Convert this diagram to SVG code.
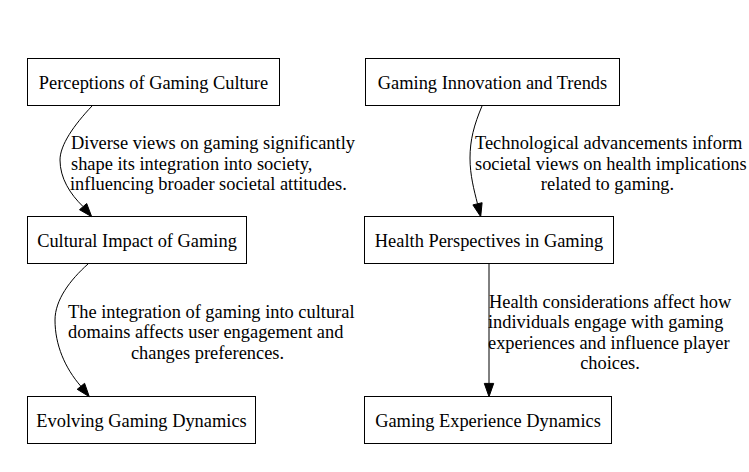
<svg xmlns="http://www.w3.org/2000/svg" width="749" height="472" viewBox="0 0 749 472">
<style>
.box{fill:#fff;stroke:#000;stroke-width:1}
.nt{font-family:"Liberation Serif","Times New Roman",serif;font-size:18.4px;fill:#000;text-anchor:middle}
.el{font-family:"Liberation Serif","Times New Roman",serif;font-size:18.4px;fill:#000}
.edge{fill:none;stroke:#000;stroke-width:1}
.ah{fill:#000;stroke:#000;stroke-width:1}
</style>
<rect width="749" height="472" fill="#fff"/>
<g id="n1"><rect class="box" x="27.5" y="58.5" width="252" height="47"/><text class="nt" x="153.5" y="88.5">Perceptions of Gaming Culture</text></g>
<g id="n2"><rect class="box" x="365.5" y="58.5" width="254" height="47"/><text class="nt" x="492.5" y="88.5">Gaming Innovation and Trends</text></g>
<g id="n3"><rect class="box" x="27.5" y="216.5" width="219" height="47"/><text class="nt" x="137" y="246.5">Cultural Impact of Gaming</text></g>
<g id="n4"><rect class="box" x="364.5" y="216.5" width="249" height="47"/><text class="nt" x="489" y="246.5">Health Perspectives in Gaming</text></g>
<g id="n5"><rect class="box" x="27.5" y="396.5" width="228" height="47"/><text class="nt" x="141.5" y="426.5">Evolving Gaming Dynamics</text></g>
<g id="n6"><rect class="box" x="364.5" y="396.5" width="247" height="47"/><text class="nt" x="488" y="426.5">Gaming Experience Dynamics</text></g>
<g id="edges">
<path class="edge" d="M92,106 C74,125 60,145 60,160 C60,178 70,194 83.1,206.6"/>
<polygon class="ah" points="91.7,216.7 79.5,209.7 86.7,203.5"/>
<path class="edge" d="M88,264 C70,280 55,300 55,320 C55,345 65,368 80.9,386.3"/>
<polygon class="ah" points="89.3,396.7 77.2,389.3 84.6,383.3"/>
<path class="edge" d="M482,106 C474,125 470,140 470,158 C470,175 474,190 477.5,203.8"/>
<polygon class="ah" points="480.7,216.7 472.9,204.9 482.1,202.7"/>
<path class="edge" d="M489,264 L489,383.4"/>
<polygon class="ah" points="489,396.7 484.3,383.4 493.7,383.4"/>
<text class="el" x="71" y="149">Diverse views on gaming significantly</text>
<text class="el" x="71" y="169.5">shape its integration into society,</text>
<text class="el" x="70" y="190">influencing broader societal attitudes.</text>
<text class="el" x="475" y="149">Technological advancements inform</text>
<text class="el" x="475" y="169.5">societal views on health implications</text>
<text class="el" x="607.5" y="190" text-anchor="middle">related to gaming.</text>
<text class="el" x="68" y="317.5">The integration of gaming into cultural</text>
<text class="el" x="68" y="338">domains affects user engagement and</text>
<text class="el" x="207.5" y="358.5" text-anchor="middle">changes preferences.</text>
<text class="el" x="489" y="307.5">Health considerations affect how</text>
<text class="el" x="488" y="328">individuals engage with gaming</text>
<text class="el" x="488" y="348.5">experiences and influence player</text>
<text class="el" x="610" y="369" text-anchor="middle">choices.</text>
</g>
</svg>
